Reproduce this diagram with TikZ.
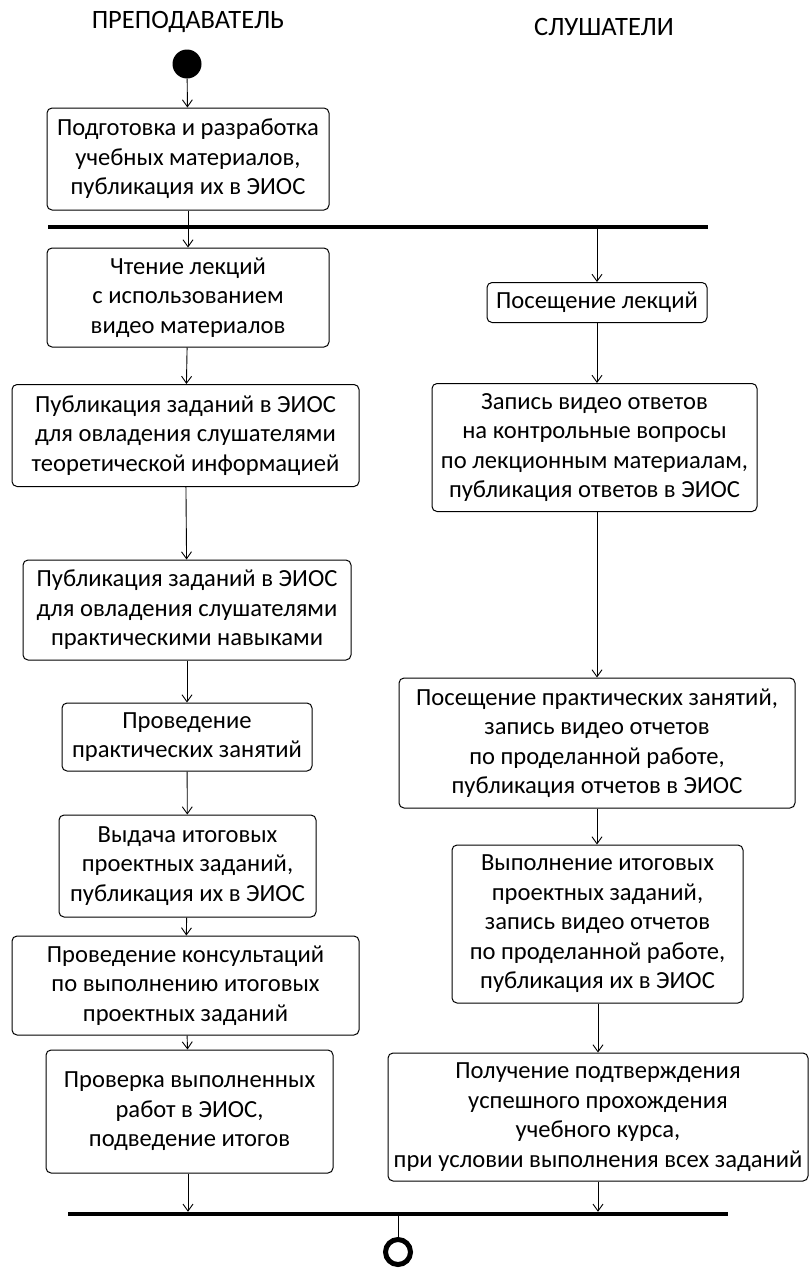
\documentclass[tikz,border=0pt]{standalone}
\usepackage{fontspec}
\setmainfont{Carlito}
\usetikzlibrary{arrows.meta}
\begin{document}
\begin{tikzpicture}[x=1pt,y=-1pt,
  box/.style={draw, line width=1pt, rounded corners=5pt, align=center, inner sep=0pt,
    font=\fontsize{24.6}{29.5}\selectfont},
  bar/.style={fill=black, inner sep=0pt, minimum height=4pt},
  lbl/.style={font=\fontsize{26.5}{30}\selectfont},
  arr/.style={line width=0.9pt, -{Straight Barb[length=7pt,width=10pt]}},
  ln/.style={line width=0.9pt}]
\useasboundingbox (0,0) rectangle (810,1277);
\node[lbl] (t1) at (188,22) {ПРЕПОДАВАТЕЛЬ};
\node[lbl] (t2) at (604,27) {СЛУШАТЕЛИ};
\node[circle, fill=black, minimum size=29pt, inner sep=0pt] (start) at (187,64) {};
\node[box, minimum width=282, minimum height=102] (b1) at (188,159) {Подготовка и разработка\\учебных материалов,\\публикация их в ЭИОС};
\node[bar, minimum width=660] (fork) at (378,227) {};
\node[box, minimum width=282, minimum height=99] (b2) at (188,297.5) {Чтение лекций\\с использованием\\видео материалов};
\node[box, minimum width=220, minimum height=40] (r1) at (597,302.5) {Посещение лекций};
\node[box, minimum width=347, minimum height=102] (b3) at (185.5,435.5) {Публикация заданий в ЭИОС\\для овладения слушателями\\теоретической информацией};
\node[box, minimum width=325, minimum height=128] (r2) at (594.5,447.5) {Запись видео ответов\\на контрольные вопросы\\по лекционным материалам,\\публикация ответов в ЭИОС};
\node[box, minimum width=328, minimum height=100] (b4) at (187,610) {Публикация заданий в ЭИОС\\для овладения слушателями\\практическими навыками};
\node[box, minimum width=250, minimum height=68] (b5) at (187,737) {Проведение\\практических занятий};
\node[box, minimum width=396, minimum height=130] (r3) at (597,743) {Посещение практических занятий,\\запись видео отчетов\\по проделанной работе,\\публикация отчетов в ЭИОС};
\node[box, minimum width=257, minimum height=102] (b6) at (187.5,866) {Выдача итоговых\\проектных заданий,\\публикация их в ЭИОС};
\node[box, minimum width=291, minimum height=158] (r4) at (597.5,924) {Выполнение итоговых\\проектных заданий,\\запись видео отчетов\\по проделанной работе,\\публикация их в ЭИОС};
\node[box, minimum width=347, minimum height=99] (b7) at (185.5,985.5) {Проведение консультаций\\по выполнению итоговых\\проектных заданий};
\node[box, minimum width=287, minimum height=123] (b8) at (189.5,1111.5) {Проверка выполненных\\работ в ЭИОС,\\подведение итогов};
\node[box, minimum width=420, minimum height=128] (r5) at (598,1117) {Получение подтверждения\\успешного прохождения\\учебного курса,\\при условии выполнения всех заданий};
\node[bar, minimum width=660] (join) at (398,1214) {};
\node[circle, draw=black, line width=5pt, minimum size=25pt, inner sep=0pt] (end) at (398,1252) {};
% connectors
\draw[arr] (start) -- (b1);
\draw[ln] (b1.south) -- (b1.south |- fork.north);
\draw[arr] (b1.south |- fork.south) -- (b2.north);
\draw[arr] (r1.north |- fork.south) -- (r1.north);
\draw[arr] (b2) -- (b3);
\draw[arr] (b3) -- (b4);
\draw[arr] (b4) -- (b5);
\draw[arr] (b5) -- (b6);
\draw[arr] (b6) -- (b7);
\draw[arr] (b7) -- (b8);
\draw[arr] (r1.south) -- (r1.south |- r2.north);
\draw[arr] (r1.south |- r2.south) -- (r1.south |- r3.north);
\draw[arr] (r1.south |- r3.south) -- (r1.south |- r4.north);
\draw[arr] (r5.north |- r4.south) -- (r5.north);
\draw[arr] (b1.south |- b8.south) -- (b1.south |- join.north);
\draw[arr] (r5.south) -- (r5.south |- join.north);
\draw[ln] (join.south) -- (end.north);
\end{tikzpicture}
\end{document}
